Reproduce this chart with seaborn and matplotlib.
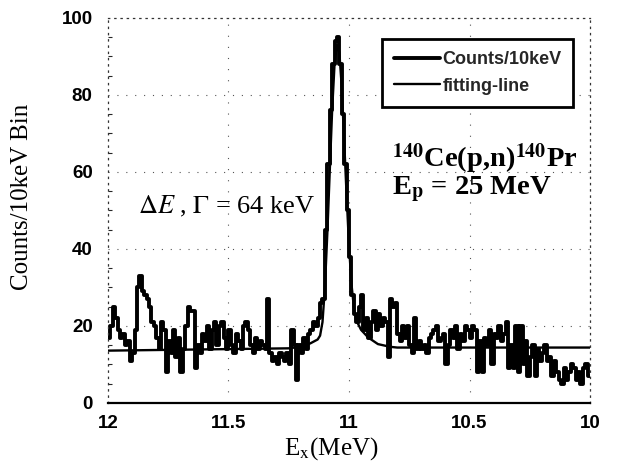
import numpy as np
import pandas as pd
import matplotlib
matplotlib.use("Agg")
import matplotlib.pyplot as plt
import seaborn as sns
from matplotlib.lines import Line2D

# ---------------- data ----------------
e_high = 12.00          # MeV, first bin (left edge of plot)
bin_width = 0.01        # MeV
# counts per 10 keV bin, from Ex = 12.00 MeV downward to 10.00 MeV
counts = [
    17, 20, 25, 22, 19, 17, 18, 15, 16, 11,
    13, 19, 30, 33, 29, 28, 27, 25, 21, 20,
    17, 14, 21, 19, 8, 16, 13, 19, 12, 17,
    8, 14, 20, 25, 24, 24, 9, 15, 13, 18,
    16, 20, 14, 19, 21, 15, 20, 21, 17, 14,
    19, 15, 13, 18, 16, 14, 20, 21, 19, 15,
    13, 17, 14, 16, 15, 14, 27, 13, 11, 12,
    10, 13, 12, 11, 13, 10, 19, 15, 6, 15,
    13, 17, 14, 18, 19, 21, 20, 22, 26, 27,
    45, 62, 76, 88, 94, 95, 88, 75, 62, 50,
    38, 28, 23, 21, 25, 28, 19, 22, 17, 21,
    24, 19, 23, 20, 22, 21, 12, 27, 25, 26,
    18, 16, 20, 17, 20, 15, 13, 22, 14, 16,
    14, 15, 13, 17, 18, 19, 20, 16, 17, 18,
    10, 15, 19, 17, 20, 14, 18, 16, 20, 19,
    17, 20, 19, 8, 16, 8, 17, 15, 19, 10,
    18, 17, 20, 16, 18, 21, 9, 15, 9, 20,
    8, 20, 10, 16, 7, 12, 15, 7, 14, 11,
    13, 15, 11, 12, 7, 11, 8, 6, 5, 9,
    6, 8, 10, 9, 6, 8, 5, 9, 10, 7,
]
# fitting line, read at selected energies
fit_energy = [12.00, 11.50, 11.25, 11.20, 11.16, 11.13, 11.12, 11.11, 11.10,
              11.09, 11.08, 11.07, 11.06, 11.05, 11.04, 11.03, 11.02, 11.01,
              11.00, 10.99, 10.98, 10.97, 10.95, 10.92, 10.88, 10.83, 10.80, 10.00]
fit_counts = [13.6, 14.0, 14.2, 14.6, 15.5, 16.5, 17.5, 21, 30,
              44, 60, 76, 88, 93, 91, 82, 68, 54,
              41, 31, 25, 21.5, 19, 17, 15.3, 14.6, 14.4, 14.4]

x_ticks = [12, 11.5, 11, 10.5, 10]
x_tick_labels = ["12", "11.5", "11", "10.5", "10"]
y_ticks = [0, 20, 40, 60, 80, 100]
y_tick_labels = ["0", "20", "40", "60", "80", "100"]
legend_labels = ["Counts/10keV", "fitting-line"]

# ---------------- build frames ----------------
n = len(counts)
centers = e_high - bin_width * (np.arange(n) + 0.5)
edges = [float(v) for v in np.round(e_high - bin_width * n + bin_width * np.arange(n + 1), 4)]
hist_df = pd.DataFrame({"Ex": centers, "counts": counts})
fit_df = pd.DataFrame({"Ex": fit_energy, "fit": fit_counts})

# ---------------- style ----------------
sns.set_theme(style="white")
plt.rcParams["font.family"] = ["Liberation Sans", "DejaVu Sans"]
plt.rcParams["mathtext.fontset"] = "stix"

fig = plt.figure(figsize=(6.21, 4.73), dpi=100)
ax = fig.add_axes([0.1739, 0.148, 0.7762, 0.814])

sns.histplot(data=hist_df, x="Ex", weights="counts", bins=edges,
             element="step", fill=False, color="black", linewidth=2.8, ax=ax)
sns.lineplot(data=fit_df, x="Ex", y="fit", color="black", linewidth=1.7,
             estimator=None, sort=True, ax=ax)

ax.set_xlim(12, 10)
ax.set_ylim(0, 100)

# grid (sparse dots)
for yv in [20, 40, 60, 80]:
    ax.axhline(yv, color="#555555", linewidth=0.8, linestyle=(0, (1, 7)), zorder=0)
for xv in [11.5, 11, 10.5]:
    ax.axvline(xv, color="#555555", linewidth=0.8, linestyle=(0, (1, 9)), zorder=0)

ax.set_xticks(x_ticks)
ax.set_xticklabels(x_tick_labels)
ax.set_yticks(y_ticks)
ax.set_yticklabels(y_tick_labels)
ax.set_yticks(np.arange(0, 101, 5), minor=True)
ax.tick_params(axis="both", which="major", direction="in", length=5, width=1,
               color="black", labelsize=13.5, labelcolor="black")
ax.tick_params(axis="y", which="major", pad=11)
ax.tick_params(axis="x", which="major", pad=9)
ax.tick_params(axis="y", which="minor", direction="in", length=3, width=0.8, left=True)
for lab in ax.get_xticklabels() + ax.get_yticklabels():
    lab.set_fontweight("bold")

for side in ["left", "right", "top"]:
    ax.spines[side].set_linestyle((0, (1, 4)))
    ax.spines[side].set_linewidth(0.9)
    ax.spines[side].set_color("#333333")
ax.spines["bottom"].set_color("black")
ax.spines["bottom"].set_linewidth(1.6)

ax.set_xlabel(r"E$_{\rm x}$(MeV)", fontsize=18, family="Liberation Serif", color="black")
ax.set_ylabel("Counts/10keV Bin", fontsize=18, family="Liberation Serif", color="black")
ax.xaxis.set_label_coords(0.463, -0.084)
ax.yaxis.set_label_coords(-0.155, 0.535)

# annotations
ax.text(11.876, 51, r"$\Delta E$ , $\Gamma$ = 64 keV", fontsize=19,
        family="Liberation Serif", va="center", ha="left", color="black")
reaction_text = (r"$^{\mathbf{140}}$Ce(p,n)$^{\mathbf{140}}$Pr" + "\n"
                 + r"E$_{\mathbf{p}}$ = 25 MeV")
ax.text(10.82, 59.8, reaction_text, fontsize=20.5, linespacing=0.95,
        family="Liberation Serif", fontweight="bold", va="center", ha="left",
        color="black")

handles = [Line2D([], [], color="black", linewidth=2.8),
           Line2D([], [], color="black", linewidth=1.7)]
leg = ax.legend(handles, legend_labels, loc="upper right", bbox_to_anchor=(0.965, 0.945),
                borderaxespad=0, frameon=True, fancybox=False, handlelength=2.6,
                handletextpad=0.1, prop={"family": "Liberation Sans", "weight": "bold", "size": 13},
                borderpad=0.65, labelspacing=0.55)
leg.get_frame().set_edgecolor("black")
leg.get_frame().set_linewidth(2.0)
leg.get_frame().set_facecolor("white")
leg.get_frame().set_alpha(1)

fig.savefig("out.png", dpi=100, facecolor="white")
